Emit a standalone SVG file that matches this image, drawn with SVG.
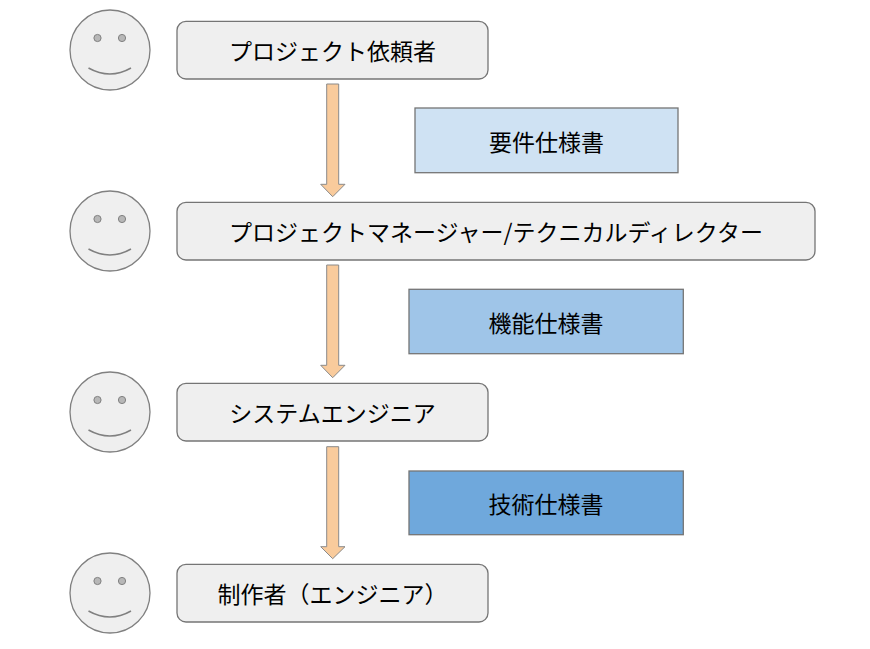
<svg xmlns="http://www.w3.org/2000/svg" width="870" height="649" viewBox="0 0 870 649">
<style>
.face{fill:#efefef;stroke:#808080;stroke-width:1.3}
.eye{fill:#b7b7b7;stroke:#808080;stroke-width:1}
.smile{fill:none;stroke:#808080;stroke-width:1.5}
.node{fill:#efefef;stroke:#757575;stroke-width:1.3}
.doc{stroke:#757575;stroke-width:1.3}
.arrow{fill:#f9cb9c;stroke:#8a8a8a;stroke-width:1}
text{font-family:"Noto Sans CJK JP","Noto Sans",sans-serif;font-size:23px;fill:#000;text-anchor:middle;dominant-baseline:central}
</style>
<rect width="870" height="649" fill="#fff"/>
<defs>
<g id="smiley">
<circle class="face" cx="0" cy="0" r="40"/>
<circle class="eye" cx="-12.5" cy="-12" r="3.6"/>
<circle class="eye" cx="12" cy="-12" r="3.6"/>
<path class="smile" d="M-21.5,18 Q0,30 21,18"/>
</g>
</defs>
<g id="faces">
<use href="#smiley" x="110" y="50"/>
<use href="#smiley" x="110" y="231"/>
<use href="#smiley" x="110" y="412"/>
<use href="#smiley" x="110" y="593"/>
</g>
<g id="connectors">
<path class="arrow" d="M326.7,84 H338.7 V184.3 H345 L332.7,196.7 L320.7,184.3 H326.7 Z"/>
<path class="arrow" d="M326.7,265 H338.7 V365.3 H345 L332.7,377.7 L320.7,365.3 H326.7 Z"/>
<path class="arrow" d="M326.7,446.7 H338.7 V546.7 H345 L332.7,558.7 L320.7,546.7 H326.7 Z"/>
</g>
<g id="node-requester">
<rect class="node" x="177" y="21.3" width="311" height="57.7" rx="9"/>
<text x="332.5" y="50">プロジェクト依頼者</text>
</g>
<g id="node-pm">
<rect class="node" x="177" y="202.3" width="638" height="57.7" rx="9"/>
<text x="496" y="231">プロジェクトマネージャー/テクニカルディレクター</text>
</g>
<g id="node-se">
<rect class="node" x="177" y="383.3" width="311" height="57.7" rx="9"/>
<text x="332.5" y="412">システムエンジニア</text>
</g>
<g id="node-maker">
<rect class="node" x="177" y="564.3" width="311" height="57.7" rx="9"/>
<text x="332.5" y="593">制作者（エンジニア）</text>
</g>
<g id="doc-requirements">
<rect class="doc" x="415" y="108" width="263" height="64.7" fill="#cfe2f3"/>
<text x="546.5" y="140.5">要件仕様書</text>
</g>
<g id="doc-functional">
<rect class="doc" x="409" y="289.3" width="274.3" height="64.4" fill="#9fc5e8"/>
<text x="546" y="321.5">機能仕様書</text>
</g>
<g id="doc-technical">
<rect class="doc" x="409" y="471" width="274.3" height="63.7" fill="#6fa8dc"/>
<text x="546" y="502.5">技術仕様書</text>
</g>
</svg>
